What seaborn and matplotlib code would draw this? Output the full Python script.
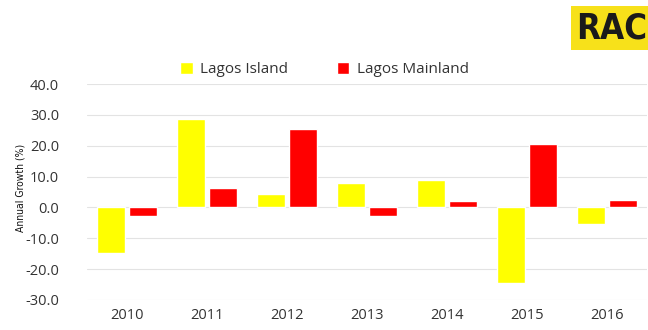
import pandas as pd
import matplotlib.pyplot as plt
import seaborn as sns

years = ["2010", "2011", "2012", "2013", "2014", "2015", "2016"]
island = [-14.8, 28.7, 4.4, 7.8, 8.9, -24.6, -5.5]
mainland = [-2.8, 6.4, 25.4, -2.9, 2.1, 20.5, 2.5]
series = ["Lagos Island", "Lagos Mainland"]
yticks = [-30, -20, -10, 0, 10, 20, 30, 40]

veri = pd.DataFrame({
    "year": years * 2,
    "growth": island + mainland,
    "area": [series[0]] * len(years) + [series[1]] * len(years),
})

sns.set_style("white")
plt.rcParams["font.family"] = ["Open Sans", "DejaVu Sans"]

fig = plt.figure(figsize=(6.48, 3.3), dpi=100)
ax = fig.add_axes([0.134, 0.091, 0.864, 0.654])

sns.barplot(data=veri, x="year", y="growth", hue="area",
            palette=["#ffff00", "#ff0000"], saturation=1, width=0.8, gap=0.13,
            ax=ax, legend=True)

ax.set_ylim(-30, 40)
ax.set_yticks(yticks)
ax.set_yticklabels([f"{t:.1f}" for t in yticks])
ax.set_xlim(-0.5, 6.5)
ax.yaxis.grid(True, color="#e3e3e3", linewidth=0.8)
ax.set_axisbelow(True)
sns.despine(left=True, bottom=True)
ax.tick_params(axis="both", length=0, labelsize=10.5, colors="#333333")
ax.tick_params(axis="y", pad=20)
ax.tick_params(axis="x", pad=6)
ax.set_xlabel("")
ax.set_ylabel("Annual Growth (%)", fontsize=7.5, color="#111111",
              family="DejaVu Sans", fontstretch="condensed")
ax.yaxis.set_label_coords(-0.11, 0.52)

ax.legend(loc="center", bbox_to_anchor=(0.425, 1.068), ncol=2, frameon=False,
          fontsize=11, handlelength=0.8, handleheight=0.8, handletextpad=0.5,
          columnspacing=3.2, labelcolor="#333333")

# logo
fig.text(0.999, 0.915, "RAC", ha="right", va="center", fontsize=25,
         fontweight="bold", color="#1a1a1a",
         family="DejaVu Sans", fontstretch="condensed",
         bbox=dict(boxstyle="square,pad=0.15", facecolor="#f7e11a", edgecolor="none"))

fig.savefig("out.png", dpi=100)
